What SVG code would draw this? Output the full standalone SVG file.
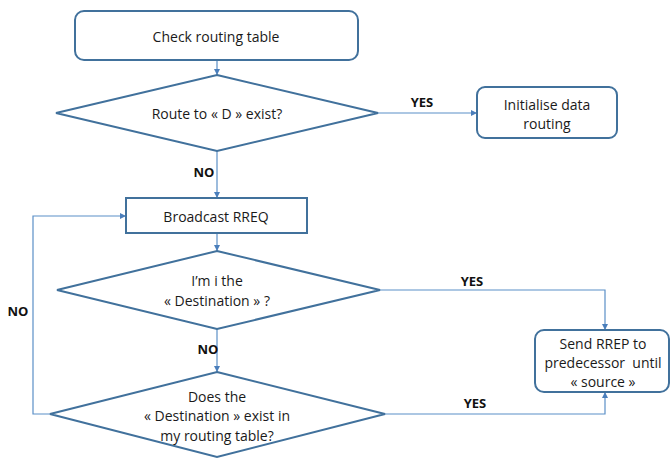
<svg xmlns="http://www.w3.org/2000/svg" width="671" height="459" viewBox="0 0 671 459">
  <defs>
    <marker id="arr" viewBox="0 0 10 10" refX="10" refY="5" markerWidth="6" markerHeight="6" markerUnits="userSpaceOnUse" orient="auto">
      <path d="M0,0 L10,5 L0,10 z" fill="#4a7ebb"/>
    </marker>
    <style>
      .shape { fill: #ffffff; stroke: #41719c; stroke-width: 2; }
      .conn { fill: none; stroke: #5b8fc7; stroke-width: 1.2; }
      .t { font-family: "Open Sans", "Liberation Sans", sans-serif; font-size: 14px; fill: #1a1a1a; text-anchor: middle; dominant-baseline: central; white-space: pre; }
      .lbl { font-family: "Open Sans", "Liberation Sans", sans-serif; font-size: 13px; font-weight: bold; fill: #111111; text-anchor: middle; dominant-baseline: central; }
    </style>
  </defs>

  <rect width="671" height="459" fill="#ffffff"/>

  <g id="connectors">
    <path class="conn" d="M217,60 V75" marker-end="url(#arr)"/>
    <path class="conn" d="M378,113 H477" marker-end="url(#arr)"/>
    <path class="conn" d="M217,151 V198" marker-end="url(#arr)"/>
    <path class="conn" d="M217,233 V251" marker-end="url(#arr)"/>
    <path class="conn" d="M380,290 H605 V330" marker-end="url(#arr)"/>
    <path class="conn" d="M217,329 V372" marker-end="url(#arr)"/>
    <path class="conn" d="M385,414 H605 V392" marker-end="url(#arr)"/>
    <path class="conn" d="M50,414 H33 V216 H126" marker-end="url(#arr)"/>
    <text class="lbl" x="422" y="102">YES</text>
    <text class="lbl" x="204" y="172">NO</text>
    <text class="lbl" x="472" y="281">YES</text>
    <text class="lbl" x="208" y="349">NO</text>
    <text class="lbl" x="475" y="403">YES</text>
    <text class="lbl" x="18" y="311">NO</text>
  </g>

  <g id="check-table">
    <rect class="shape" x="75" y="11" width="283" height="49" rx="9"/>
    <text class="t" x="216" y="36">Check routing table</text>
  </g>

  <g id="route-exists">
    <polygon class="shape" points="217,75 378,113 217,151 56,113"/>
    <text class="t" x="217" y="113">Route to « D » exist?</text>
  </g>

  <g id="init-routing">
    <rect class="shape" x="477" y="87" width="140" height="51" rx="8"/>
    <text class="t" x="547" y="104">Initialise data</text>
    <text class="t" x="547" y="123">routing</text>
  </g>

  <g id="broadcast">
    <rect class="shape" x="126" y="198" width="181" height="35"/>
    <text class="t" x="216" y="216">Broadcast RREQ</text>
  </g>

  <g id="is-destination">
    <polygon class="shape" points="217,251 380,290 217,329 57,290"/>
    <text class="t" x="217" y="280">I’m i the</text>
    <text class="t" x="217" y="300">« Destination » ?</text>
  </g>

  <g id="send-rrep">
    <rect class="shape" x="535" y="330" width="134" height="62" rx="9"/>
    <text class="t" x="603" y="343">Send RREP to</text>
    <text class="t" x="603" y="362" xml:space="preserve">predecessor  until</text>
    <text class="t" x="603" y="381">« source »</text>
  </g>

  <g id="in-table">
    <polygon class="shape" points="217,372 385,414 217,457 50,414"/>
    <text class="t" x="217" y="396">Does the</text>
    <text class="t" x="217" y="415">« Destination » exist in</text>
    <text class="t" x="217" y="435">my routing table?</text>
  </g>
</svg>
